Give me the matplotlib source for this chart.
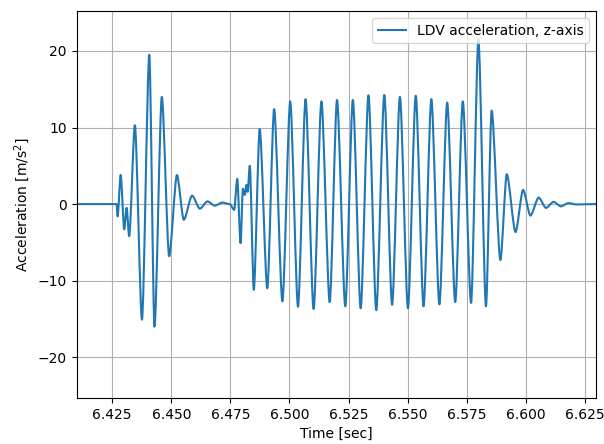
import matplotlib
matplotlib.use("Agg")
import matplotlib.pyplot as plt
from matplotlib.path import Path
from matplotlib.patches import PathPatch
from matplotlib.lines import Line2D

# peaks / troughs
time = [6.405, 6.4269, 6.4273, 6.4286, 6.4301, 6.4311, 6.4322, 6.4346, 6.4376,
        6.4407, 6.4429, 6.4460, 6.4491, 6.4524, 6.4553, 6.4588, 6.4621, 6.4653,
        6.4684, 6.4717, 6.4747, 6.4766, 6.4779, 6.4793, 6.4803, 6.4811, 6.4818,
        6.4823, 6.4832, 6.4849, 6.4874, 6.4906, 6.4935, 6.4970, 6.5003, 6.5036,
        6.5068, 6.5102, 6.5135, 6.5170, 6.5201, 6.5236, 6.5268, 6.5301, 6.5334,
        6.5367, 6.5401, 6.5434, 6.5467, 6.5501, 6.5534, 6.5567, 6.5600, 6.5634,
        6.5667, 6.5701, 6.5733, 6.5768, 6.5799, 6.5831, 6.5855, 6.5892, 6.5919,
        6.5956, 6.5988, 6.6019, 6.6054, 6.6085, 6.6117, 6.6148, 6.6180, 6.6213,
        6.6293, 6.635]
accel = [0.0, 0.0, -1.6, 3.8, -3.3, -0.5, -4.2, 10.3, -15.1,
         19.5, -16.0, 14.0, -6.8, 3.8, -2.05, 1.1, -0.6, 0.35,
         -0.2, 0.2, 0.0, -0.75, 3.3, -5.1, 2.0, 1.2, 2.5,
         1.6, 5.0, -11.2, 9.8, -11.0, 12.4, -12.7, 13.4, -13.4,
         13.7, -13.7, 13.4, -12.8, 13.6, -13.35, 13.6, -13.6, 14.2,
         -13.85, 14.25, -13.15, 14.0, -13.6, 14.15, -13.35, 13.7, -13.1,
         13.25, -12.8, 13.4, -12.9, 21.5, -13.35, 12.2, -7.3, 3.9,
         -3.65, 1.85, -1.5, 0.85, -0.5, 0.3, -0.3, 0.13, -0.05,
         0.0, 0.0]

fig, ax = plt.subplots(figsize=(6.04, 4.44), dpi=100)
fig.subplots_adjust(left=0.127, right=0.987, top=0.975, bottom=0.104)

# join the extrema with bezier segments (flat tangent at each peak)
k = 0.27
verts = [(time[0], accel[0])]
codes = [Path.MOVETO]
for i in range(len(time) - 1):
    dt = time[i + 1] - time[i]
    verts += [(time[i] + k * dt, accel[i]),
              (time[i + 1] - k * dt, accel[i + 1]),
              (time[i + 1], accel[i + 1])]
    codes += [Path.CURVE4] * 3
ax.add_patch(PathPatch(Path(verts, codes), fill=False, edgecolor='C0',
                       linewidth=1.5, joinstyle='round'))

ax.set_xlim(6.41, 6.6297)
ax.set_ylim(-25.3, 25.2)
ax.set_xticks([6.425, 6.45, 6.475, 6.5, 6.525, 6.55, 6.575, 6.6, 6.625])
ax.set_yticks([-20, -10, 0, 10, 20])
ax.set_xlabel('Time [sec]')
ax.set_ylabel('Acceleration [m/s$^2$]')
ax.grid(True)
ax.set_axisbelow(True)
handle = Line2D([], [], color='C0', linewidth=1.5)
ax.legend([handle], ['LDV acceleration, z-axis'], loc='upper right')

fig.savefig('out.png', dpi=100)
